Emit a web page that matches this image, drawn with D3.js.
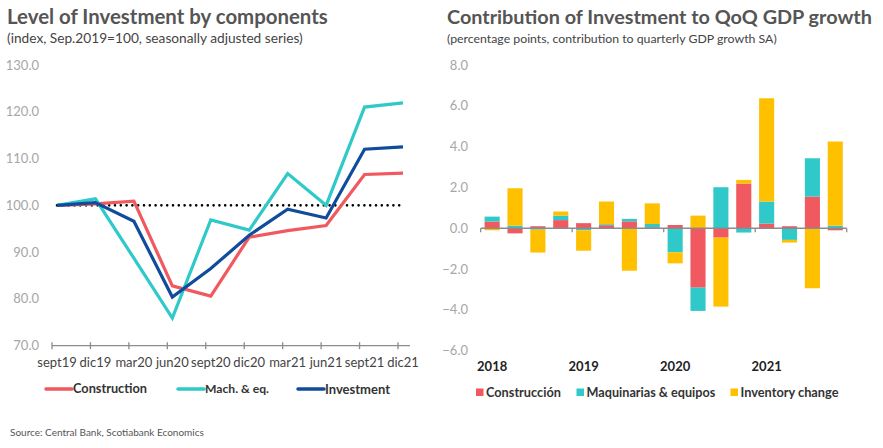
<!DOCTYPE html>
<html>
<head>
<meta charset="utf-8">
<script src="https://cdn.jsdelivr.net/npm/d3@7"></script>
<style>
  body { margin: 0; background: #fff; }
  svg { display: block; font-family: Lato, "Open Sans", sans-serif; }
</style>
</head>
<body>
<svg id="chart" width="883" height="448"></svg>
<script>
// ---- left chart data (index, Sep.2019=100)
var quarters = ['sept19','dic19','mar20','jun20','sept20','dic20','mar21','jun21','sept21','dic21'];
var construction = [100, 100.3, 100.9, 82.8, 80.6, 93.2, 94.6, 95.7, 106.6, 106.9];
var machinery    = [100, 101.4, 88.7, 75.9, 96.9, 94.7, 106.8, 100.0, 121.0, 121.9];
var investment   = [100, 100.6, 96.6, 80.4, 86.5, 93.6, 99.2, 97.3, 112.0, 112.5];
var leftTicks = [70, 80, 90, 100, 110, 120, 130];

// ---- right chart data (pp contribution to QoQ GDP growth)
var periods = ['2018Q1','2018Q2','2018Q3','2018Q4','2019Q1','2019Q2','2019Q3','2019Q4',
               '2020Q1','2020Q2','2020Q3','2020Q4','2021Q1','2021Q2','2021Q3','2021Q4'];
var construccion = [0.33, -0.25, 0.10, 0.40, 0.25, 0.15, 0.34, 0.05, 0.16, -2.91, -0.46, 2.19, 0.23, 0.10, 1.55, -0.10];
var maquinarias  = [0.24, 0.13, -0.07, 0.22, -0.10, 0.05, 0.12, 0.16, -1.18, -1.14, 2.01, -0.21, 1.08, -0.57, 1.88, 0.13];
var inventario   = [-0.10, 1.83, -1.12, 0.20, -1.00, 1.11, -2.08, 1.01, -0.54, 0.62, -3.38, 0.18, 5.06, -0.13, -2.94, 4.12];
var rightTicks = [-6, -4, -2, 0, 2, 4, 6, 8];
var yearLabels = ['2018','2019','2020','2021'];

var RED = '#f0595f', TEAL = '#2fc9c9', BLUE = '#0f4c9b', YELLOW = '#ffc000';

var svg = d3.select('#chart');

// shrink/grow a text so it spans the given width
function fit(sel, w){
  var n = sel.node(), fs = parseFloat(sel.attr('font-size'));
  var len = n.getComputedTextLength();
  if(len > 0) sel.attr('font-size', (fs * w / len).toFixed(2));
  return sel;
}

// titles
function titles(x, t, tw, s, sw){
  fit(svg.append('text').attr('x', x).attr('y', 24)
    .attr('font-size', 19).attr('font-weight', 700).attr('fill', '#555').text(t), tw);
  fit(svg.append('text').attr('x', x).attr('y', 43)
    .attr('font-size', 13).attr('fill', '#444').text(s), sw);
}
titles(7, 'Level of Investment by components', 321, '(index, Sep.2019=100, seasonally adjusted series)', 296);
titles(447, 'Contribution of Investment to QoQ GDP growth', 425, '(percentage points, contribution to quarterly GDP growth SA)', 330);

// ================= left chart
var xL = d3.scalePoint().domain(quarters).range([57, 403]);
var yL = d3.scaleLinear().domain([70, 130]).range([345.7, 65]);

var gL = svg.append('g');

gL.selectAll('.ylab').data(leftTicks).join('text')
  .attr('x', 39).attr('y', function(d){ return yL(d); }).attr('dy', '0.35em')
  .attr('text-anchor', 'end').attr('font-size', 13).attr('fill', '#a6a6a6')
  .text(function(d){ return d3.format('.1f')(d); });

// x axis
gL.append('line').attr('x1', 52).attr('x2', 410)
  .attr('y1', yL(70)).attr('y2', yL(70)).attr('stroke', '#8c8c8c').attr('stroke-width', 1.3);
gL.selectAll('.xt').data(quarters).join('line')
  .attr('x1', function(d){ return xL(d) - 5; }).attr('x2', function(d){ return xL(d) - 5; })
  .attr('y1', yL(70) - 3.5).attr('y2', yL(70) + 3.5).attr('stroke', '#8c8c8c').attr('stroke-width', 1.3);
gL.selectAll('.xlab').data(quarters).join('text')
  .attr('x', function(d){ return xL(d); }).attr('y', 367)
  .attr('text-anchor', 'middle').attr('font-size', 13).attr('fill', '#444')
  .text(function(d){ return d; });

// 100 reference line
gL.append('line').attr('x1', xL(quarters[0])).attr('x2', xL(quarters[quarters.length-1]))
  .attr('y1', yL(100)).attr('y2', yL(100))
  .attr('stroke', '#000').attr('stroke-width', 2.6)
  .attr('stroke-dasharray', '0,5.8').attr('stroke-linecap', 'round');

var line = d3.line().x(function(d, i){ return xL(quarters[i]); }).y(function(d){ return yL(d); });
[[construction, RED], [machinery, TEAL], [investment, BLUE]].forEach(function(s){
  gL.append('path').attr('d', line(s[0])).attr('fill', 'none')
    .attr('stroke', s[1]).attr('stroke-width', 3.2).attr('stroke-linejoin', 'miter');
});

// left legend
var legL = [['Construction', RED, 46, 74], ['Mach. & eq.', TEAL, 178, 64], ['Investment', BLUE, 298, 65]];
legL.forEach(function(l){
  gL.append('line').attr('x1', l[2]).attr('x2', l[2] + 26).attr('y1', 389).attr('y2', 389)
    .attr('stroke', l[1]).attr('stroke-width', 3.5).attr('stroke-linecap', 'round');
  fit(gL.append('text').attr('x', l[2] + 27).attr('y', 389).attr('dy', '0.35em')
    .attr('font-size', 13).attr('font-weight', 700).attr('fill', '#333').text(l[0]), l[3]);
});

fit(svg.append('text').attr('x', 10).attr('y', 436).attr('font-size', 10).attr('fill', '#555')
  .text('Source: Central Bank, Scotiabank Economics'), 194);

// ================= right chart
var keys = ['construccion', 'maquinarias', 'inventario'];
var colors = {construccion: RED, maquinarias: TEAL, inventario: YELLOW};
var rows = periods.map(function(p, i){
  return {period: p, construccion: construccion[i], maquinarias: maquinarias[i], inventario: inventario[i]};
});
var series = d3.stack().keys(keys).offset(d3.stackOffsetDiverging)(rows);

var xR = d3.scaleBand().domain(periods).range([480.7, 846.7]).paddingInner(0.34).paddingOuter(0.17);
var yR = d3.scaleLinear().domain([-6, 8]).range([350.7, 65]);

var gR = svg.append('g');

gR.selectAll('.ylab').data(rightTicks).join('text')
  .attr('x', 468).attr('y', function(d){ return yR(d); }).attr('dy', '0.35em')
  .attr('text-anchor', 'end').attr('font-size', 13).attr('fill', '#a6a6a6')
  .text(function(d){ return d3.format('.1f')(d); });

gR.selectAll('.s').data(series).join('g')
  .attr('fill', function(d){ return colors[d.key]; })
  .selectAll('rect').data(function(d){ return d; }).join('rect')
  .attr('x', function(d){ return xR(d.data.period); })
  .attr('width', xR.bandwidth())
  .attr('y', function(d){ return yR(Math.max(d[0], d[1])); })
  .attr('height', function(d){ return Math.abs(yR(d[0]) - yR(d[1])); });

// zero axis
gR.append('line').attr('x1', 480.7).attr('x2', 846.7).attr('y1', yR(0)).attr('y2', yR(0))
  .attr('stroke', '#8c8c8c').attr('stroke-width', 1.3);
gR.selectAll('.xt').data(d3.range(0, periods.length + 1, 4)).join('line')
  .attr('x1', function(d){ return 480.7 + d * (366 / periods.length); })
  .attr('x2', function(d){ return 480.7 + d * (366 / periods.length); })
  .attr('y1', yR(0)).attr('y2', yR(0) + 4).attr('stroke', '#8c8c8c').attr('stroke-width', 1.3);

gR.selectAll('.year').data(yearLabels).join('text')
  .attr('x', function(d, i){ return xR(periods[i * 4]) + xR.bandwidth() / 2; })
  .attr('y', 371).attr('text-anchor', 'middle')
  .attr('font-size', 13).attr('font-weight', 700).attr('fill', '#222').text(function(d){ return d; });

// right legend
var legR = [['Construcción', RED, 476, 75], ['Maquinarias & equipos', TEAL, 576.5, 129], ['Inventory change', YELLOW, 730.5, 98]];
legR.forEach(function(l){
  gR.append('rect').attr('x', l[2]).attr('y', 388.5).attr('width', 7.5).attr('height', 7.5).attr('fill', l[1]);
  fit(gR.append('text').attr('x', l[2] + 10).attr('y', 392.5).attr('dy', '0.35em')
    .attr('font-size', 13).attr('font-weight', 700).attr('fill', '#333').text(l[0]), l[3]);
});
</script>
</body>
</html>
